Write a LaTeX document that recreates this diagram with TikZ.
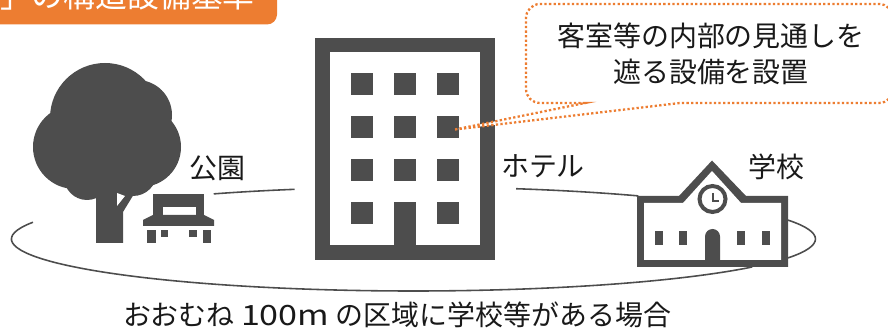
\documentclass[tikz,border=0pt]{standalone}
\usepackage{fontspec}
\setmainfont{Noto Sans CJK JP}
\definecolor{icongray}{HTML}{4D4D4D}
\definecolor{notegold}{HTML}{ED7D31}
\tikzset{
  icon/.style={fill=icongray,draw=none},
  hole/.style={fill=white,draw=none},
  zone/.style={draw=icongray,line width=0.9pt},
  label/.style={font=\fontsize{15.9}{20.6}\selectfont,text=black!90,inner sep=0pt,align=center}
}

\begin{document}
\begin{tikzpicture}
  \useasboundingbox (0,0) rectangle (17.76,6.56);
  \clip (0,0) rectangle (17.76,6.56);

  % the 100m zone
  \draw[zone] (8.27,1.78) ++(161.2:8.04 and 1.04) arc[start angle=161.2,end angle=327.4,x radius=8.04,y radius=1.04];
  \draw[zone] (8.27,1.78) ++(-21.3:8.04 and 1.04) arc[start angle=-21.3,end angle=21.3,x radius=8.04,y radius=1.04];
  \draw[zone] (8.27,1.78) ++(119.8:8.04 and 1.04) arc[start angle=119.8,end angle=107.2,x radius=8.04,y radius=1.04];
  \draw[zone] (8.27,1.78) ++(75.2:8.04 and 1.04) arc[start angle=75.2,end angle=56,x radius=8.04,y radius=1.04];

  % tree
  \fill[icon] (2.10,4.20) circle (1.10);
  \fill[icon] (2.74,4.26) circle (0.70);
  \fill[icon] (1.50,3.62) circle (0.84);
  \fill[icon] (2.82,3.62) circle (0.80);
  \fill[icon] (2.66,3.12) circle (0.48);
  \fill[icon] (1.74,3.02) circle (0.46);
  \fill[icon] (2.10,3.56) circle (0.80);
  \fill[icon] (1.92,1.70) -- (2.46,1.70) -- (2.46,2.32) -- (2.68,2.68) -- (2.68,3.2) -- (1.92,3.2) -- cycle;
  \fill[hole] (2.34,2.70) -- (2.50,2.64) -- (2.34,2.44) -- cycle;

  % bench
  \fill[icon] (3.06,2.26) rectangle (4.08,2.68);
  \fill[hole] (3.26,2.26) rectangle (3.92,2.42);
  \fill[icon] (2.86,2.04) -- (4.28,2.04) -- (4.28,2.16) -- (4.08,2.26) -- (3.06,2.26) -- (2.86,2.16) -- cycle;
  \fill[icon] (2.94,1.70) rectangle (3.12,1.96);
  \fill[icon] (3.22,1.82) rectangle (3.36,1.96);
  \fill[icon] (3.78,1.82) rectangle (3.94,1.96);
  \fill[icon] (4.06,1.70) rectangle (4.22,1.96);

  % hotel
  \fill[icon] (6.30,1.36) rectangle (9.89,5.80);
  \fill[hole] (6.60,1.66) rectangle (9.60,5.52);
  \foreach \x in {7.02,7.88,8.74}
    \foreach \y in {4.66,3.80,2.94,2.08}
      \fill[icon] (\x,\y) rectangle (\x+0.44,\y+0.44);
  \fill[icon] (7.88,1.66) rectangle (8.32,2.52);

  % school
  \fill[icon] (12.74,1.22) -- (15.76,1.22) -- (15.76,2.64) -- (14.92,2.64) -- (14.24,3.35) -- (13.58,2.64) -- (12.74,2.64) -- cycle;
  \fill[hole] (12.88,1.36) -- (15.62,1.36) -- (15.62,2.50) -- (14.82,2.50) -- (14.24,3.14) -- (13.66,2.50) -- (12.88,2.50) -- cycle;
  \draw[icongray,fill=white,line width=0.08cm] (14.25,2.58) circle (0.26);
  \draw[icongray,line width=0.04cm] (14.25,2.70) -- (14.25,2.54) -- (14.38,2.54);
  \foreach \x in {13.10,13.58,14.74,15.24}
    \fill[icon] (\x,1.66) rectangle (\x+0.16,1.94);
  \fill[icon] (14.10,1.36) -- (14.10,1.83) arc (180:0:0.15) -- (14.40,1.36) -- cycle;

  % orange heading, its top runs off the page
  \fill[notegold,rounded corners=0.2cm] (-1,7.5) rectangle (5.54,6.07);
  \node[anchor=east,text=white,inner sep=0pt,font=\fontsize{18.1}{20}\selectfont] (heading) at (5.10,6.66) {」の構造設備基準};

  % balloon
  \draw[notegold,fill=white,line width=1.3pt,dash pattern=on 1.3pt off 1.3pt]
    (9.10,3.97) -- (13.60,4.50) [rounded corners=0.28cm] -- (17.86,4.50) -- (17.86,6.48) -- (10.52,6.48) -- (10.52,4.50) [sharp corners] -- (11.70,4.50) -- cycle;
  \node[label] (balloontext) at (14.22,5.48) {客室等の内部の見通しを\\遮る設備を設置};

  \node[label] (park) at (4.34,3.20) {公園};
  \node[label] (hotel) at (10.86,3.24) {ホテル};
  \node[label] (school) at (15.52,3.22) {学校};
  \node[label] (zonetext) at (7.94,0.27) {おおむね \scalebox{1.22}[1]{100m} の区域に学校等がある場合};
\end{tikzpicture}
\end{document}
